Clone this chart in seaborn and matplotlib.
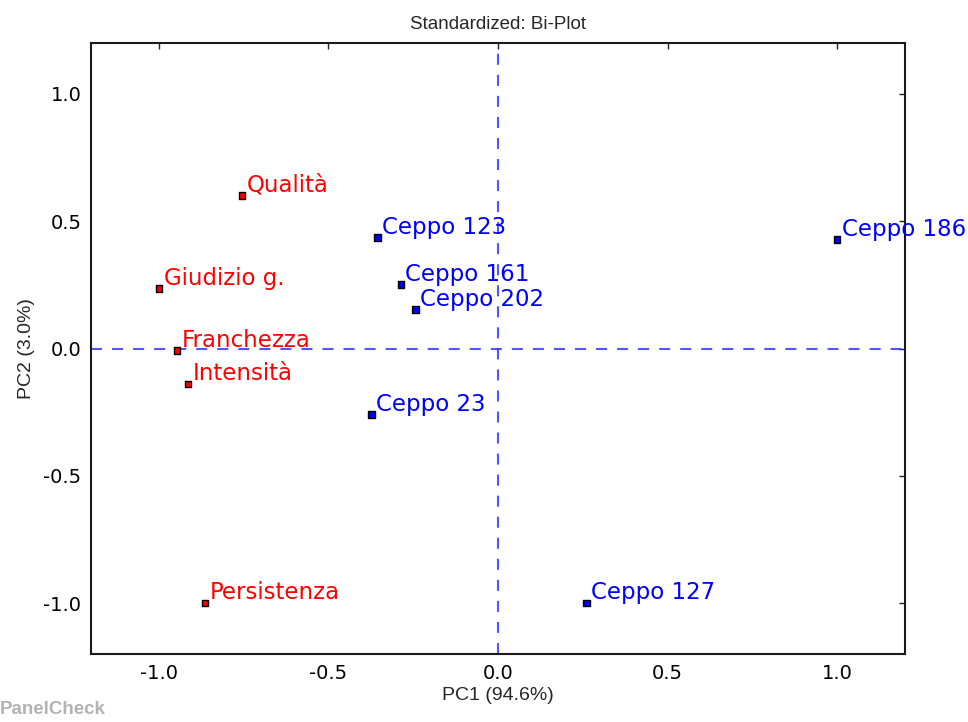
import matplotlib
matplotlib.use("Agg")
import matplotlib.pyplot as plt
import seaborn as sns
import pandas as pd

# Sensory attributes (loadings) and samples (scores) on the first two PCs
attributes = ["Qualità", "Giudizio g.", "Franchezza", "Intensità", "Persistenza"]
attr_pc1 = [-0.755, -1.0, -0.947, -0.915, -0.864]
attr_pc2 = [0.601, 0.236, -0.008, -0.138, -1.0]

samples = ["Ceppo 123", "Ceppo 161", "Ceppo 202", "Ceppo 23", "Ceppo 186", "Ceppo 127"]
samp_pc1 = [-0.355, -0.287, -0.243, -0.373, 1.0, 0.261]
samp_pc2 = [0.436, 0.251, 0.153, -0.259, 0.428, -1.0]

ticks = [-1.0, -0.5, 0.0, 0.5, 1.0]
tick_labels = ["-1.0", "-0.5", "0.0", "0.5", "1.0"]

df = pd.DataFrame({
    "label": attributes + samples,
    "PC1": attr_pc1 + samp_pc1,
    "PC2": attr_pc2 + samp_pc2,
    "kind": ["attr"] * len(attributes) + ["sample"] * len(samples),
})
palette = {"attr": "#ff0000", "sample": "#0000ff"}

sns.set_style("white")
plt.rcParams["font.family"] = ["DejaVu Sans"]
plt.rcParams["axes.unicode_minus"] = False

sans = ["Liberation Sans", "DejaVu Sans"]

fig = plt.figure(figsize=(9.68, 7.22), dpi=100)
ax = fig.add_axes([91 / 968, 1 - 654 / 722, (905 - 91) / 968, (654 - 43) / 722])

# Dashed axes through the origin
dash = (0, (5.3, 4.8))
ax.axhline(0, color="#2a2aff", lw=1.5, ls=dash, alpha=0.8, zorder=1)
ax.axvline(0, color="#2a2aff", lw=1.5, ls=dash, alpha=0.8, zorder=1)

sns.scatterplot(data=df, x="PC1", y="PC2", hue="kind", palette=palette,
                marker="s", s=20, edgecolor="black", linewidth=1.0,
                legend=False, ax=ax, zorder=3)

for _, row in df.iterrows():
    ax.text(row["PC1"] + 0.014, row["PC2"] + 0.015, row["label"],
            color=palette[row["kind"]], fontsize=16.5, zorder=4,
            clip_on=False)

ax.set_xlim(-1.2, 1.2)
ax.set_ylim(-1.2, 1.2)
ax.set_xticks(ticks)
ax.set_xticklabels(tick_labels)
ax.set_yticks(ticks)
ax.set_yticklabels(tick_labels)
ax.tick_params(direction="in", length=4, width=1, top=True, right=True,
               labelsize=14, pad=7, colors="#222222", labelcolor="black")
for sp in ax.spines.values():
    sp.set_visible(True)
    sp.set_linewidth(1.5)
    sp.set_color("#1a1a1a")

ax.set_title("Standardized: Bi-Plot", family=sans, fontsize=13.5, pad=10)
ax.set_xlabel("PC1 (94.6%)", family=sans, fontsize=14, labelpad=3)
ax.set_ylabel("PC2 (3.0%)", family=sans, fontsize=14, labelpad=6)

fig.text(0.0, 0.006, "PanelCheck", family=sans,
         fontsize=13.5, fontweight="bold", color="#b3b3b3", ha="left", va="bottom")

fig.savefig("out.png", dpi=100)
